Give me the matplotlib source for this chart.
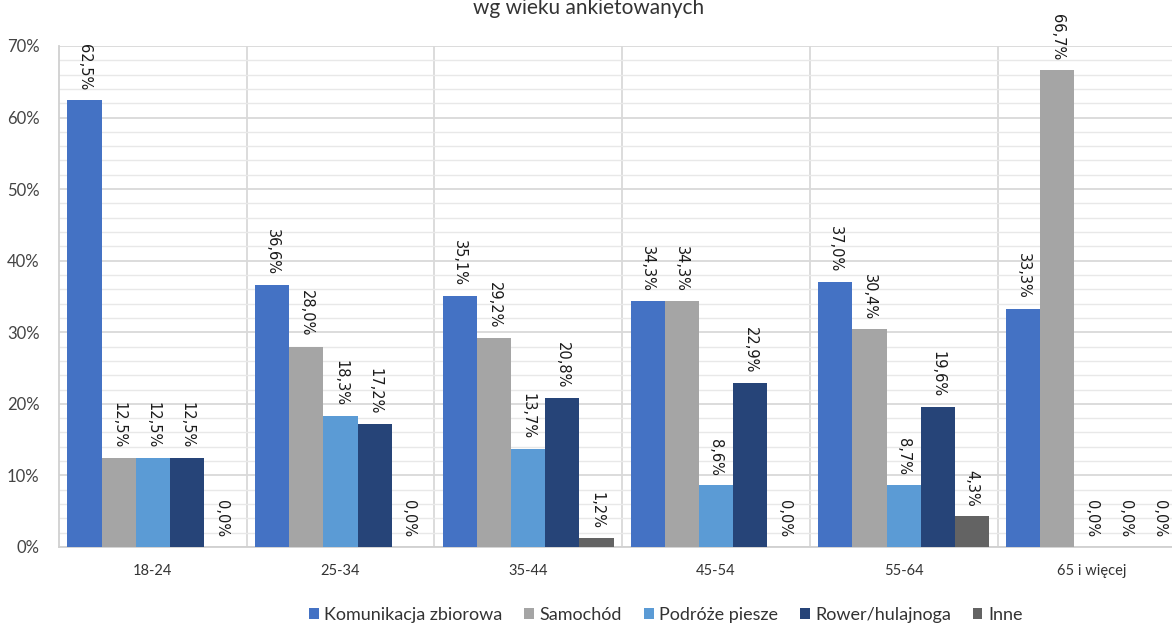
import numpy as np
import matplotlib.pyplot as plt
from matplotlib.ticker import MultipleLocator, FuncFormatter

plt.rcParams['font.family'] = ['Lato', 'DejaVu Sans']

groups = ["18-24", "25-34", "35-44", "45-54", "55-64", "65 i więcej"]
series = ["Komunikacja zbiorowa", "Samochód", "Podróże piesze", "Rower/hulajnoga", "Inne"]
komunikacja = [62.5, 36.6, 35.1, 34.3, 37.0, 33.3]
samochod = [12.5, 28.0, 29.2, 34.3, 30.4, 66.7]
piesze = [12.5, 18.3, 13.7, 8.6, 8.7, 0.0]
rower = [12.5, 17.2, 20.8, 22.9, 19.6, 0.0]
inne = [0.0, 0.0, 1.2, 0.0, 4.3, 0.0]
colors = ["#4472C4", "#A5A5A5", "#5B9BD5", "#264478", "#636363"]

values = [komunikacja, samochod, piesze, rower, inne]

fig = plt.figure(figsize=(11.72, 6.24), dpi=100)
ax = fig.add_axes([0.0503, 0.1234, 0.961, 0.803])

bw = 0.182
x = np.arange(len(groups)) + 0.5
for i, (name, vals, c) in enumerate(zip(series, values, colors)):
    pos = x + (i - 2) * bw
    ax.bar(pos, vals, width=bw, color=c, label=name, zorder=3)
    # value labels, rotated to read top-down
    for px, v in zip(pos, vals):
        ax.annotate(f"{v:.1f}%".replace(".", ","), (px, v), xytext=(0, 7),
                    textcoords="offset points", rotation=270, ha="center",
                    va="bottom", fontsize=10.5, family="DejaVu Sans",
                    color="#1a1a1a", zorder=4)

ax.set_xlim(0, len(groups))
ax.set_ylim(0, 70)
ax.yaxis.set_major_locator(MultipleLocator(10))
ax.yaxis.set_minor_locator(MultipleLocator(2))
ax.yaxis.set_major_formatter(FuncFormatter(lambda v, _: f"{v:.0f}%"))
ax.grid(which="major", axis="y", color="#D9D9D9", lw=1.3, zorder=0)
ax.grid(which="minor", axis="y", color="#E8E8E8", lw=1.0, zorder=0)
for b in range(1, len(groups)):
    ax.axvline(b, color="#D9D9D9", lw=1.3, zorder=1)

ax.set_xticks(x)
ax.set_xticklabels(groups, fontsize=10.5, color="#333333")
ax.tick_params(axis="y", labelsize=12, colors="#444444", length=0, pad=14)
ax.tick_params(axis="x", length=0, pad=12)
ax.tick_params(which="minor", length=0)
for s in ["top", "right"]:
    ax.spines[s].set_visible(False)
for s in ["left", "bottom"]:
    ax.spines[s].set_color("#D0D0D0")
    ax.spines[s].set_linewidth(1.3)

fig.text(0.502, 0.987, "wg wieku ankietowanych", ha="center", va="center",
         fontsize=15, color="#333333")

fig.legend(loc="center", bbox_to_anchor=(0.568, 0.014), ncol=5, frameon=False,
           fontsize=13, handlelength=0.55, handleheight=0.55, handletextpad=0.3,
           columnspacing=1.2, labelcolor="#333333")

fig.savefig("out.png", dpi=100)
